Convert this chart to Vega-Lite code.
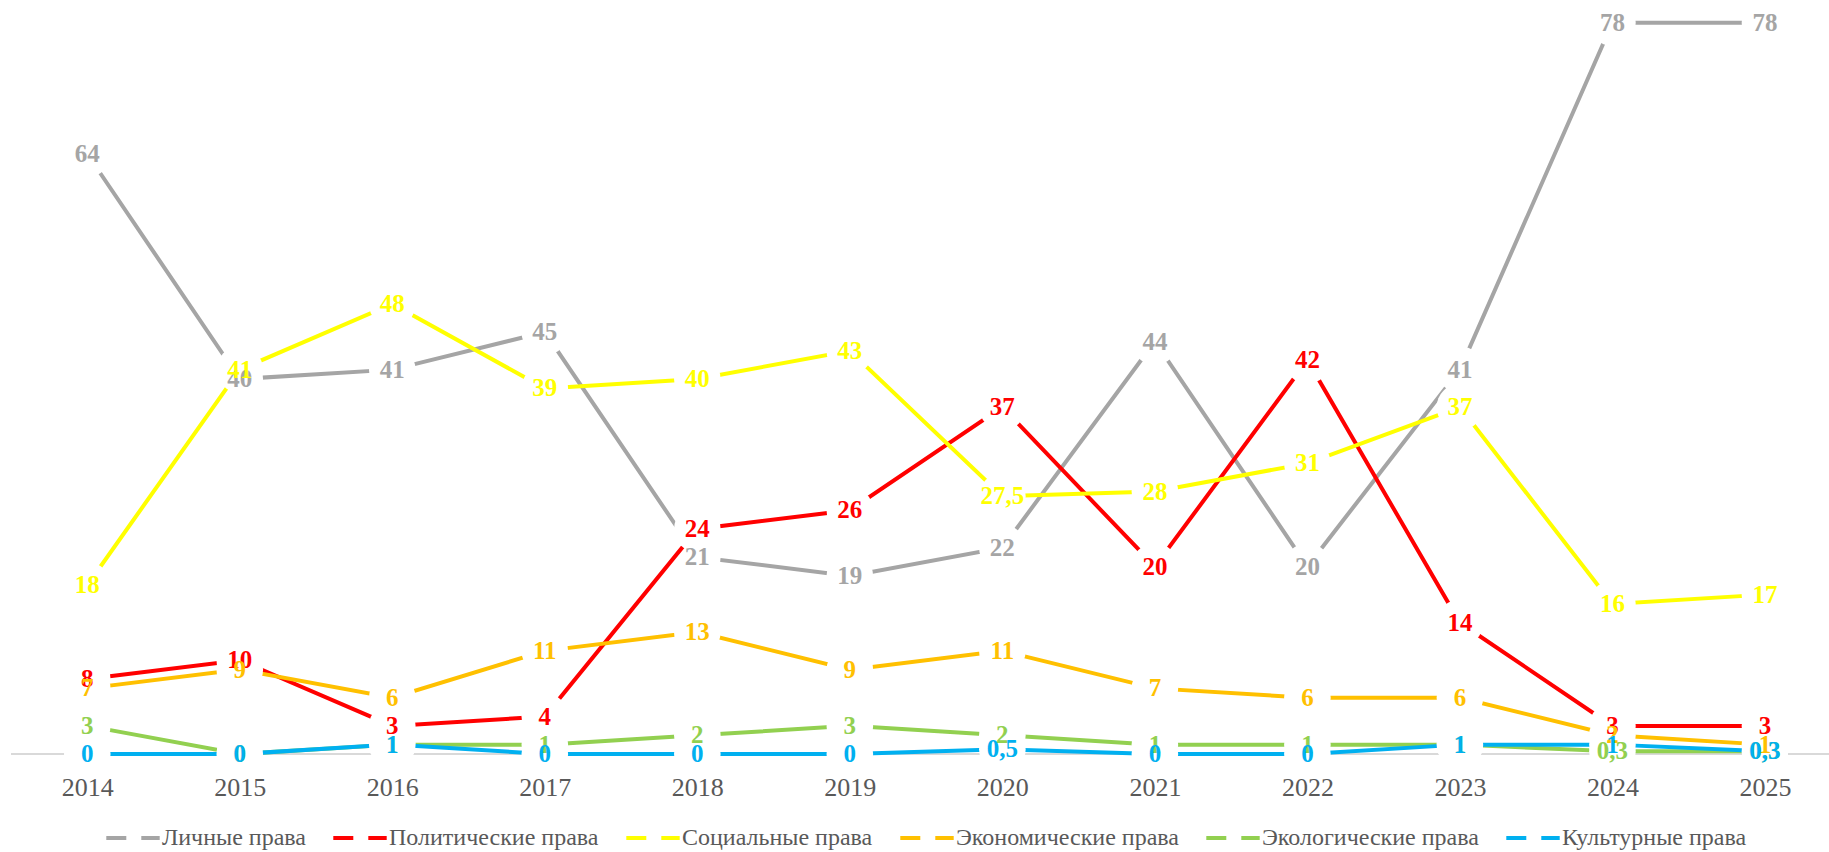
{
  "$schema": "https://vega.github.io/schema/vega-lite/v6.json",
  "width": 1818,
  "height": 750,
  "autosize": "none",
  "padding": {"left": 11, "top": 4, "right": 0, "bottom": 98},
  "background": "white",
  "config": {
    "view": {"stroke": null},
    "font": "Liberation Serif"
  },
  "datasets": {
    "d": [
      {"year": 2014, "s": "Личные права", "v": 64, "t": "64"},
      {"year": 2015, "s": "Личные права", "v": 40, "t": "40"},
      {"year": 2016, "s": "Личные права", "v": 41, "t": "41"},
      {"year": 2017, "s": "Личные права", "v": 45, "t": "45"},
      {"year": 2018, "s": "Личные права", "v": 21, "t": "21"},
      {"year": 2019, "s": "Личные права", "v": 19, "t": "19"},
      {"year": 2020, "s": "Личные права", "v": 22, "t": "22"},
      {"year": 2021, "s": "Личные права", "v": 44, "t": "44"},
      {"year": 2022, "s": "Личные права", "v": 20, "t": "20"},
      {"year": 2023, "s": "Личные права", "v": 41, "t": "41"},
      {"year": 2024, "s": "Личные права", "v": 78, "t": "78"},
      {"year": 2025, "s": "Личные права", "v": 78, "t": "78"},
      {"year": 2014, "s": "Политические права", "v": 8, "t": "8"},
      {"year": 2015, "s": "Политические права", "v": 10, "t": "10"},
      {"year": 2016, "s": "Политические права", "v": 3, "t": "3"},
      {"year": 2017, "s": "Политические права", "v": 4, "t": "4"},
      {"year": 2018, "s": "Политические права", "v": 24, "t": "24"},
      {"year": 2019, "s": "Политические права", "v": 26, "t": "26"},
      {"year": 2020, "s": "Политические права", "v": 37, "t": "37"},
      {"year": 2021, "s": "Политические права", "v": 20, "t": "20"},
      {"year": 2022, "s": "Политические права", "v": 42, "t": "42"},
      {"year": 2023, "s": "Политические права", "v": 14, "t": "14"},
      {"year": 2024, "s": "Политические права", "v": 3, "t": "3"},
      {"year": 2025, "s": "Политические права", "v": 3, "t": "3"},
      {"year": 2014, "s": "Социальные права", "v": 18, "t": "18"},
      {"year": 2015, "s": "Социальные права", "v": 41, "t": "41"},
      {"year": 2016, "s": "Социальные права", "v": 48, "t": "48"},
      {"year": 2017, "s": "Социальные права", "v": 39, "t": "39"},
      {"year": 2018, "s": "Социальные права", "v": 40, "t": "40"},
      {"year": 2019, "s": "Социальные права", "v": 43, "t": "43"},
      {"year": 2020, "s": "Социальные права", "v": 27.5, "t": "27,5"},
      {"year": 2021, "s": "Социальные права", "v": 28, "t": "28"},
      {"year": 2022, "s": "Социальные права", "v": 31, "t": "31"},
      {"year": 2023, "s": "Социальные права", "v": 37, "t": "37"},
      {"year": 2024, "s": "Социальные права", "v": 16, "t": "16"},
      {"year": 2025, "s": "Социальные права", "v": 17, "t": "17"},
      {"year": 2014, "s": "Экономические права", "v": 7, "t": "7"},
      {"year": 2015, "s": "Экономические права", "v": 9, "t": "9"},
      {"year": 2016, "s": "Экономические права", "v": 6, "t": "6"},
      {"year": 2017, "s": "Экономические права", "v": 11, "t": "11"},
      {"year": 2018, "s": "Экономические права", "v": 13, "t": "13"},
      {"year": 2019, "s": "Экономические права", "v": 9, "t": "9"},
      {"year": 2020, "s": "Экономические права", "v": 11, "t": "11"},
      {"year": 2021, "s": "Экономические права", "v": 7, "t": "7"},
      {"year": 2022, "s": "Экономические права", "v": 6, "t": "6"},
      {"year": 2023, "s": "Экономические права", "v": 6, "t": "6"},
      {"year": 2024, "s": "Экономические права", "v": 2, "t": "2"},
      {"year": 2025, "s": "Экономические права", "v": 1, "t": "1"},
      {"year": 2014, "s": "Экологические права", "v": 3, "t": "3"},
      {"year": 2015, "s": "Экологические права", "v": 0, "t": "0"},
      {"year": 2016, "s": "Экологические права", "v": 1, "t": "1"},
      {"year": 2017, "s": "Экологические права", "v": 1, "t": "1"},
      {"year": 2018, "s": "Экологические права", "v": 2, "t": "2"},
      {"year": 2019, "s": "Экологические права", "v": 3, "t": "3"},
      {"year": 2020, "s": "Экологические права", "v": 2, "t": "2"},
      {"year": 2021, "s": "Экологические права", "v": 1, "t": "1"},
      {"year": 2022, "s": "Экологические права", "v": 1, "t": "1"},
      {"year": 2023, "s": "Экологические права", "v": 1, "t": "1"},
      {"year": 2024, "s": "Экологические права", "v": 0.3, "t": "0,3"},
      {"year": 2025, "s": "Экологические права", "v": 0.3, "t": "0,3"},
      {"year": 2014, "s": "Культурные права", "v": 0, "t": "0"},
      {"year": 2015, "s": "Культурные права", "v": 0, "t": "0"},
      {"year": 2016, "s": "Культурные права", "v": 1, "t": "1"},
      {"year": 2017, "s": "Культурные права", "v": 0, "t": "0"},
      {"year": 2018, "s": "Культурные права", "v": 0, "t": "0"},
      {"year": 2019, "s": "Культурные права", "v": 0, "t": "0"},
      {"year": 2020, "s": "Культурные права", "v": 0.5, "t": "0,5"},
      {"year": 2021, "s": "Культурные права", "v": 0, "t": "0"},
      {"year": 2022, "s": "Культурные права", "v": 0, "t": "0"},
      {"year": 2023, "s": "Культурные права", "v": 1, "t": "1"},
      {"year": 2024, "s": "Культурные права", "v": 1, "t": "1"},
      {"year": 2025, "s": "Культурные права", "v": 0.3, "t": "0,3"}
    ]
  },
  "layer": [
    {
      "data": {"values": [{"z": 0}]},
      "mark": {"type": "rule", "color": "#D9D9D9", "strokeWidth": 2},
      "encoding": {"y": {"field": "z", "type": "quantitative", "scale": {"domain": [0, 80], "nice": false}, "axis": null}}
    },
    {
      "data": {"name": "d"},
      "encoding": {
        "x": {
          "field": "year", "type": "quantitative",
          "scale": {"domain": [2013.5, 2025.42], "nice": false, "zero": false},
          "axis": {"values": [2014, 2015, 2016, 2017, 2018, 2019, 2020, 2021, 2022, 2023, 2024, 2025], "format": "d", "grid": false, "domain": false, "ticks": false, "title": null, "labelFont": "Liberation Serif", "labelFontSize": 26, "labelColor": "#595959", "labelPadding": 20, "labelFlush": false, "labelOverlap": false}
        },
        "y": {"field": "v", "type": "quantitative", "scale": {"domain": [0, 80], "nice": false}, "axis": null}
      },
      "layer": [
        {"transform": [{"filter": "datum.s === 'Личные права'"}], "mark": {"type": "line", "strokeWidth": 4},
         "encoding": {"color": {"field": "s", "type": "nominal", "scale": {"domain": ["Личные права", "Политические права", "Социальные права", "Экономические права", "Экологические права", "Культурные права"], "range": ["#A5A5A5", "#FF0000", "#FFFF00", "#FFC000", "#92D050", "#00B0F0"]},
           "legend": {"orient": "none", "legendX": 93, "legendY": 805, "direction": "horizontal", "columns": 6, "title": null, "symbolType": "stroke", "symbolSize": 2852, "symbolStrokeWidth": 4, "symbolDash": [20, 15], "labelFont": "Liberation Serif", "labelFontSize": 24, "labelColor": "#595959", "labelOffset": 0, "columnPadding": 19, "padding": 0, "labelLimit": 400}}}},
        {"transform": [{"filter": "datum.s === 'Личные права'"}], "mark": {"type": "point", "shape": "circle", "filled": true, "color": "white", "opacity": 1, "strokeWidth": 0, "size": 2170}},
        {"transform": [{"filter": "datum.s === 'Политические права'"}], "mark": {"type": "line", "strokeWidth": 4},
         "encoding": {"color": {"field": "s", "type": "nominal"}}},
        {"transform": [{"filter": "datum.s === 'Политические права'"}], "mark": {"type": "point", "shape": "circle", "filled": true, "color": "white", "opacity": 1, "strokeWidth": 0, "size": 2170}},
        {"transform": [{"filter": "datum.s === 'Социальные права'"}], "mark": {"type": "line", "strokeWidth": 4},
         "encoding": {"color": {"field": "s", "type": "nominal"}}},
        {"transform": [{"filter": "datum.s === 'Социальные права'"}], "mark": {"type": "point", "shape": "circle", "filled": true, "color": "white", "opacity": 1, "strokeWidth": 0, "size": 2170}},
        {"transform": [{"filter": "datum.s === 'Экономические права'"}], "mark": {"type": "line", "strokeWidth": 4},
         "encoding": {"color": {"field": "s", "type": "nominal"}}},
        {"transform": [{"filter": "datum.s === 'Экономические права'"}], "mark": {"type": "point", "shape": "circle", "filled": true, "color": "white", "opacity": 1, "strokeWidth": 0, "size": 2170}},
        {"transform": [{"filter": "datum.s === 'Экологические права'"}], "mark": {"type": "line", "strokeWidth": 4},
         "encoding": {"color": {"field": "s", "type": "nominal"}}},
        {"transform": [{"filter": "datum.s === 'Экологические права'"}], "mark": {"type": "point", "shape": "circle", "filled": true, "color": "white", "opacity": 1, "strokeWidth": 0, "size": 2170}},
        {"transform": [{"filter": "datum.s === 'Культурные права'"}], "mark": {"type": "line", "strokeWidth": 4},
         "encoding": {"color": {"field": "s", "type": "nominal"}}},
        {"transform": [{"filter": "datum.s === 'Культурные права'"}], "mark": {"type": "point", "shape": "circle", "filled": true, "color": "white", "opacity": 1, "strokeWidth": 0, "size": 2170}},
        {"mark": {"type": "text", "font": "Liberation Serif", "fontWeight": "bold", "fontSize": 25, "baseline": "middle", "align": "center"},
         "encoding": {
           "text": {"field": "t", "type": "nominal"},
           "color": {"field": "s", "type": "nominal"}
         }}
      ]
    }
  ]
}
